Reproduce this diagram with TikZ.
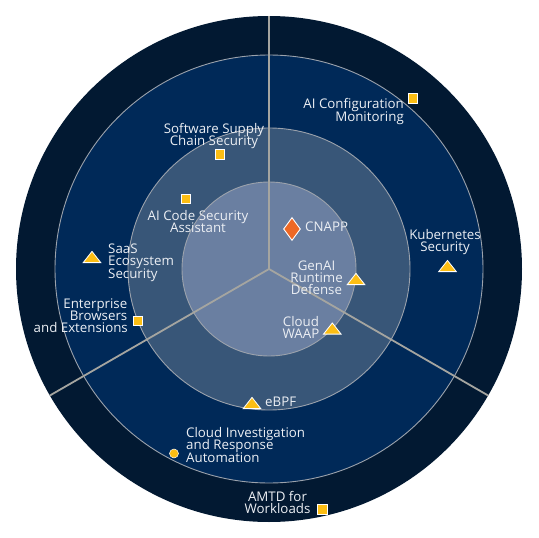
\documentclass[tikz,border=0pt]{standalone}
\usepackage{fontspec}
\setmainfont{Open Sans}
\usetikzlibrary{shapes.geometric}
\definecolor{ringA}{RGB}{2,25,50}
\definecolor{ringB}{RGB}{0,41,88}
\definecolor{ringC}{RGB}{56,86,120}
\definecolor{ringD}{RGB}{106,127,161}
\definecolor{rline}{RGB}{155,162,172}
\definecolor{divline}{RGB}{165,165,160}
\definecolor{mk}{RGB}{252,190,20}
\definecolor{mko}{RGB}{238,104,36}
\definecolor{txt}{RGB}{236,239,244}
\begin{document}
\begin{tikzpicture}[x=1pt,y=-1pt,
  lbl/.style={text=txt, font=\fontsize{13.3}{15}\selectfont, inner sep=0pt},
  sq/.style={rectangle, fill=mk, draw=white, line width=0.7pt, minimum size=9.5pt, inner sep=0pt},
  dotmark/.style={circle, fill=mk, draw=white, line width=0.5pt, minimum size=9pt, inner sep=0pt},
  dia/.style={diamond, fill=mko, draw=white, line width=0.9pt, minimum width=17pt, minimum height=23pt, inner sep=0pt},
  tri/.style={fill=mk, draw=white, line width=0.8pt, line join=miter},
  ringline/.style={draw=rline, line width=0.9pt},
  divider/.style={draw=divline, line width=1.8pt},
  trimark/.pic={\draw[tri] (-8.8,5.6) -- (0,-5.6) -- (8.8,5.6) -- cycle;}]
\path[fill=white] (0,0) rectangle (539,538);
\useasboundingbox (0,0) rectangle (539,538);
\coordinate (c) at (269,269);
% rings
\fill[ringA] (c) circle[radius=253pt];
\path[ringline, fill=ringB] (c) circle[radius=214pt];
\path[ringline, fill=ringC] (c) circle[radius=141pt];
\path[ringline, fill=ringD] (c) circle[radius=87pt];
% dividers
\path (c) ++(90:253pt) coordinate (d1);
\path (c) ++(210:253pt) coordinate (d2);
\path (c) ++(330:253pt) coordinate (d3);
\draw[divider] (c) -- (d1);
\draw[divider] (c) -- (d2);
\draw[divider] (c) -- (d3);
% markers
\node[sq] (m-aicm) at (413,98.5) {};
\node[sq] (m-sscs) at (220,154.5) {};
\node[sq] (m-aics) at (186,199) {};
\node[sq] (m-ebe) at (137.7,320.7) {};
\node[sq] (m-amtd) at (322.3,509.5) {};
\pic (m-kube) at (447.5,266) {trimark};
\pic (m-saas) at (92,257) {trimark};
\pic (m-genai) at (356,279) {trimark};
\pic (m-waap) at (332.3,328.5) {trimark};
\pic (m-ebpf) at (252,403) {trimark};
\node[dia] (m-cnapp) at (292,229) {};
\node[dotmark] (m-cira) at (174,453.5) {};
% labels
\node[lbl, anchor=base east] (t-aicm1) at (404,108.5) {AI Configuration};
\node[lbl, anchor=base east] (t-aicm2) at (404,121) {Monitoring};
\node[lbl, anchor=base] (t-sscs1) at (214,133.5) {Software Supply};
\node[lbl, anchor=base] (t-sscs2) at (214,145.7) {Chain Security};
\node[lbl, anchor=base] (t-aics1) at (198,220) {AI Code Security};
\node[lbl, anchor=base] (t-aics2) at (198,232) {Assistant};
\node[lbl, anchor=base] (t-kube1) at (445,239) {Kubernetes};
\node[lbl, anchor=base] (t-kube2) at (445,251) {Security};
\node[lbl, anchor=base west] (t-saas1) at (108,253.5) {SaaS};
\node[lbl, anchor=base west] (t-saas2) at (108,265.7) {Ecosystem};
\node[lbl, anchor=base west] (t-saas3) at (108,278) {Security};
\node[lbl, anchor=base east] (t-ebe1) at (127.5,308.3) {Enterprise};
\node[lbl, anchor=base east] (t-ebe2) at (127.5,320.5) {Browsers};
\node[lbl, anchor=base east] (t-ebe3) at (128,332.5) {and Extensions};
\node[lbl, anchor=base west] (t-cnapp) at (305,231.5) {CNAPP};
\node[lbl, anchor=base] (t-genai1) at (316.5,270.7) {GenAI};
\node[lbl, anchor=base] (t-genai2) at (316.5,282.5) {Runtime};
\node[lbl, anchor=base] (t-genai3) at (316.5,294.5) {Defense};
\node[lbl, anchor=base] (t-waap1) at (301,326.5) {Cloud};
\node[lbl, anchor=base] (t-waap2) at (301,338.5) {WAAP};
\node[lbl, anchor=base west] (t-ebpf) at (265,406) {eBPF};
\node[lbl, anchor=base west] (t-cira1) at (186,437) {Cloud Investigation};
\node[lbl, anchor=base west] (t-cira2) at (186,449.5) {and Response};
\node[lbl, anchor=base west] (t-cira3) at (186,462) {Automation};
\node[lbl, anchor=base] (t-amtd1) at (277.5,501) {AMTD for};
\node[lbl, anchor=base] (t-amtd2) at (277.5,513.5) {Workloads};
\end{tikzpicture}
\end{document}
